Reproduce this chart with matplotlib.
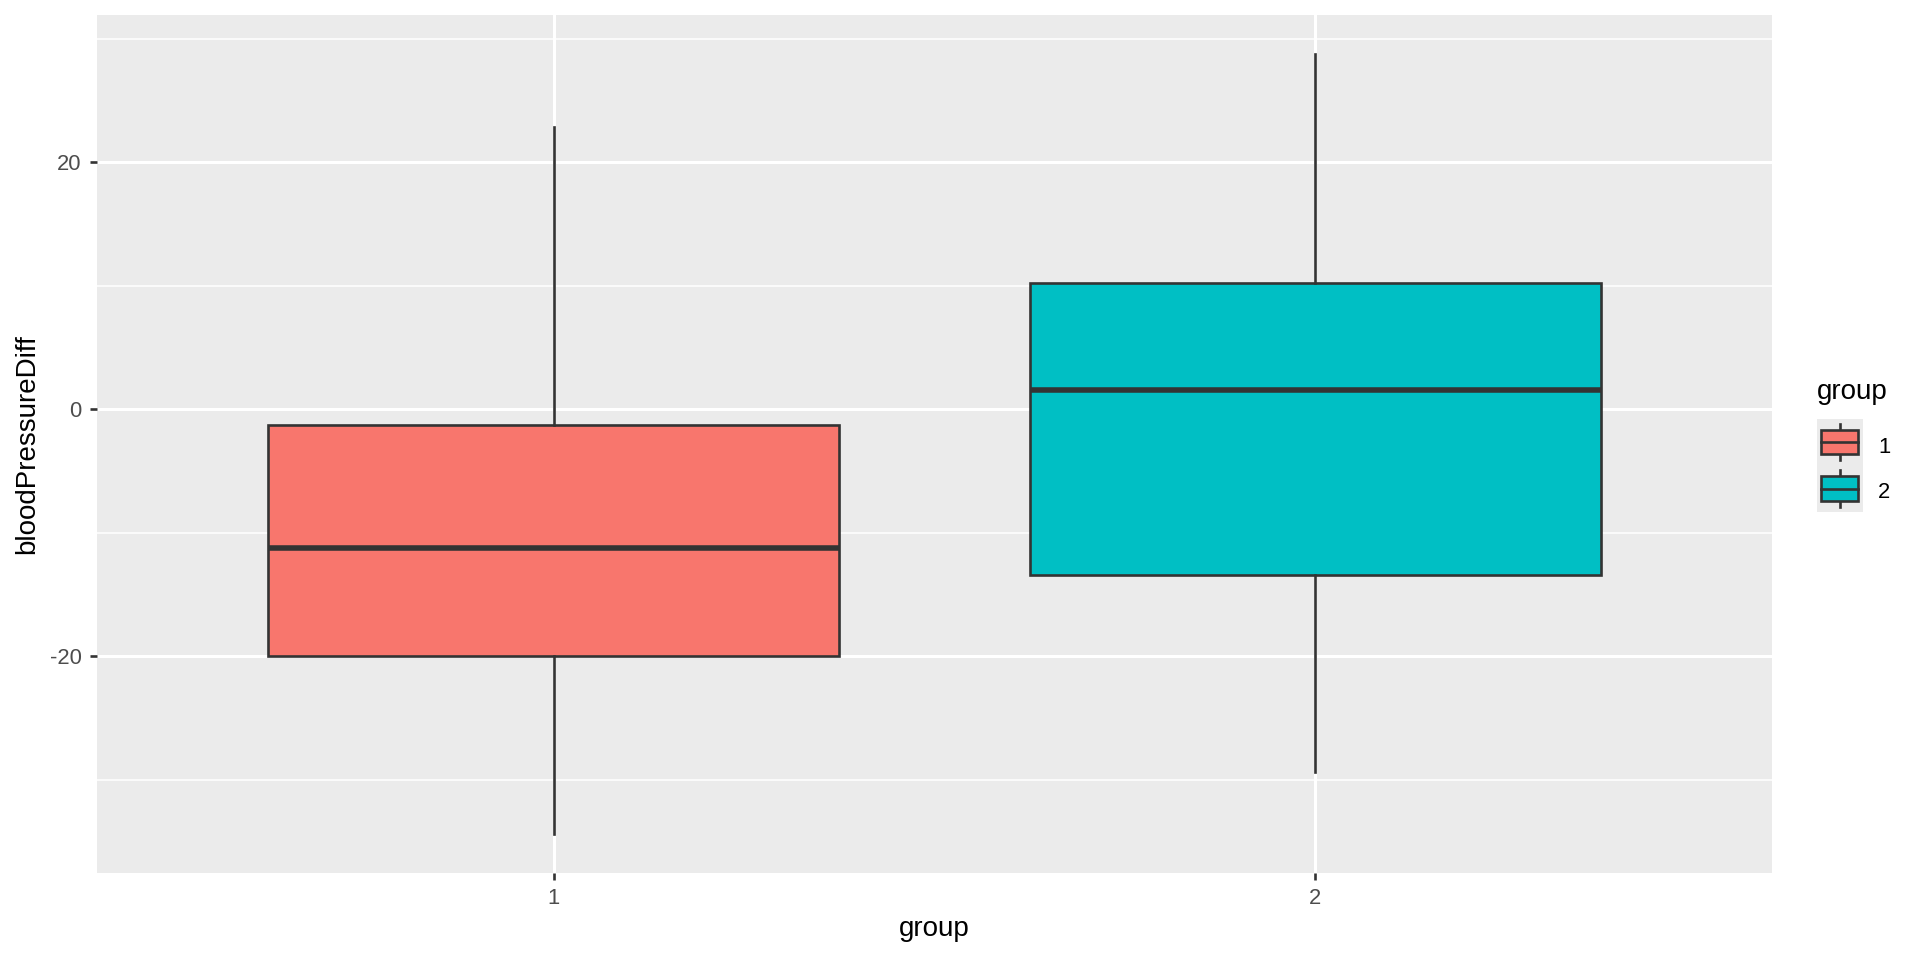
import matplotlib
matplotlib.use("Agg")
import matplotlib.pyplot as plt
from matplotlib.patches import Rectangle

plt.rcParams['font.family'] = ['Liberation Sans', 'DejaVu Sans']

groups = ["1", "2"]
whisker_low = [-34.4, -29.4]
q1 = [-20.0, -13.4]
medians = [-11.2, 1.6]
q3 = [-1.3, 10.2]
whisker_high = [22.9, 28.8]
fill_colors = ["#F8766D", "#00BFC4"]
y_ticks = [-20, 0, 20]
y_minor = [-30, -10, 10, 30]

W, H = 1920, 960
ax_l, ax_r, ax_t, ax_b = 96.7, 1772, 14.7, 873
fig = plt.figure(figsize=(19.2, 9.6), dpi=100)
ax = fig.add_axes([ax_l / W, (H - ax_b) / H, (ax_r - ax_l) / W, (ax_b - ax_t) / H])
ax.set_facecolor("#EBEBEB")
for s in ax.spines.values():
    s.set_visible(False)

edge = "#333333"
stats = []
for i in range(len(groups)):
    stats.append(dict(med=medians[i], q1=q1[i], q3=q3[i],
                      whislo=whisker_low[i], whishi=whisker_high[i],
                      fliers=[], label=groups[i]))
positions = list(range(1, len(groups) + 1))
bp = ax.bxp(stats, positions=positions, widths=0.75, patch_artist=True,
            showcaps=False, showfliers=False,
            boxprops=dict(edgecolor=edge, linewidth=1.9),
            whiskerprops=dict(color=edge, linewidth=1.9),
            medianprops=dict(color=edge, linewidth=4.0, solid_capstyle='butt'),
            zorder=3)
for patch, c in zip(bp['boxes'], fill_colors):
    patch.set_facecolor(c)

dmin = min(whisker_low); dmax = max(whisker_high)
pad = 0.05 * (dmax - dmin)
ax.set_ylim(dmin - pad, dmax + pad)
ax.set_xlim(0.4, len(groups) + 0.6)

ax.set_yticks(y_ticks)
ax.set_yticklabels([str(v) if v >= 0 else "-" + str(-v) for v in y_ticks])
ax.set_yticks(y_minor, minor=True)
ax.set_xticks(positions)
ax.set_xticklabels(groups)
ax.grid(True, which='major', color='white', linewidth=2.2, zorder=0)
ax.grid(True, which='minor', axis='y', color='white', linewidth=1.1, zorder=0)
ax.set_axisbelow(True)
ax.tick_params(axis='both', which='major', length=5.2, width=1.9, color=edge,
               labelsize=15.8, labelcolor='#4D4D4D', pad=5.6)
ax.tick_params(axis='both', which='minor', length=0)

ax.set_xlabel("group", fontsize=20, color='black', va='baseline')
ax.xaxis.set_label_coords(0.5, (ax_b - 936) / (ax_b - ax_t))
ax.set_ylabel("bloodPressureDiff", fontsize=20, color='black', va='center')
ax.yaxis.set_label_coords((27.5 - ax_l) / (ax_r - ax_l), 0.5)

# legend
fig.text(1817 / W, (H - 399.4) / H, "group", fontsize=20, va='baseline', ha='left')
lax = fig.add_axes([1816.7 / W, (H - 511.7) / H, 46 / W, 92.7 / H])
lax.set_xlim(0, 1)
lax.set_ylim(2, 0)
lax.axis('off')
lax.add_patch(Rectangle((0, 0), 1, 2, facecolor="#EBEBEB", edgecolor='none', zorder=0))
label_baselines = [453.3, 498.3]
for i, c in enumerate(fill_colors):
    yc = i + 0.5
    lax.plot([0.5, 0.5], [yc - 0.39, yc + 0.39], color=edge, linewidth=1.9, zorder=1)
    lax.add_patch(Rectangle((0.1, yc - 0.26), 0.8, 0.52, facecolor=c,
                            edgecolor=edge, linewidth=1.9, zorder=2))
    lax.plot([0.1, 0.9], [yc, yc], color=edge, linewidth=1.9, zorder=3)
    fig.text(1878 / W, (H - label_baselines[i]) / H, groups[i], fontsize=15.8,
             va='baseline', ha='left')

fig.savefig("out.png", dpi=100, facecolor='white')
